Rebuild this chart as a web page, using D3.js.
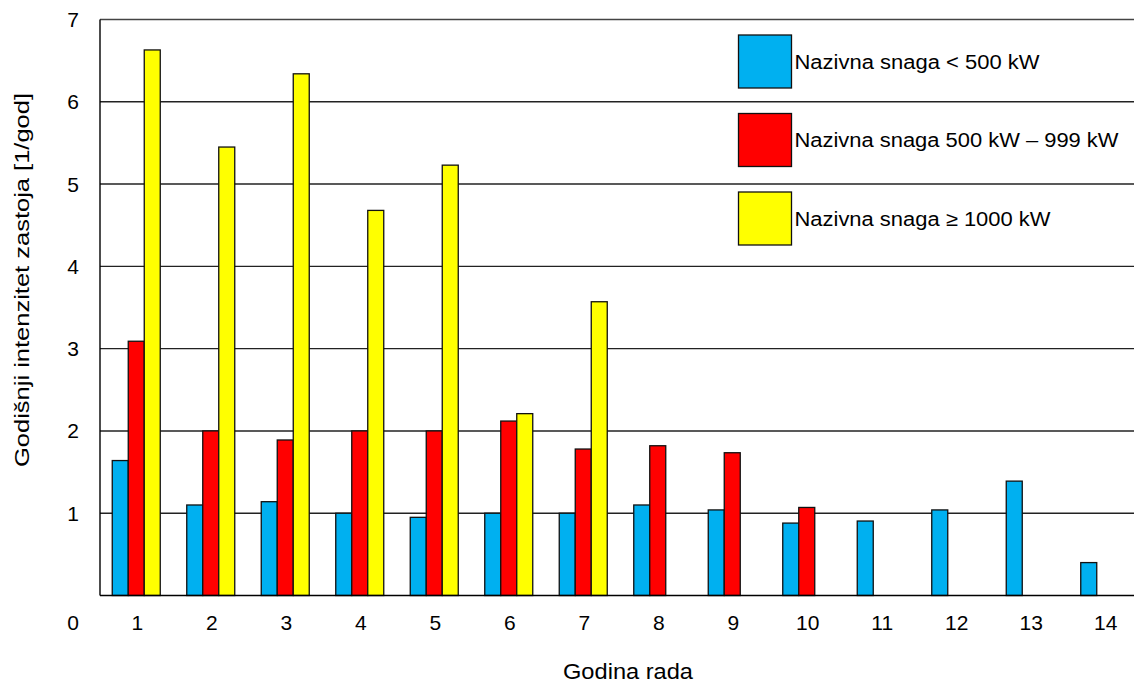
<!DOCTYPE html>
<html>
<head>
<meta charset="utf-8">
<script src="https://cdn.jsdelivr.net/npm/d3@7"></script>
<style>
  html, body { margin: 0; padding: 0; background: #fff; }
  text { font-family: "Liberation Sans", Arial, sans-serif; fill: #000; }
</style>
</head>
<body>
<svg id="chart" width="1134" height="684"></svg>
<script>
// ---- data ----
const categories = ["1","2","3","4","5","6","7","8","9","10","11","12","13","14"];
const seriesNames = ["Nazivna snaga < 500 kW", "Nazivna snaga 500 kW \u2013 999 kW", "Nazivna snaga \u2265 1000 kW"];
const seriesColors = ["#00B0F0", "#FF0000", "#FFFF00"];
const below500 = [1.64, 1.10, 1.14, 1.00, 0.95, 1.00, 1.00, 1.10, 1.04, 0.88, 0.905, 1.04, 1.39, 0.40];
const from500to999 = [3.09, 2.00, 1.89, 2.00, 2.00, 2.12, 1.78, 1.82, 1.735, 1.07, null, null, null, null];
const above1000 = [6.63, 5.45, 6.34, 4.68, 5.23, 2.21, 3.57, null, null, null, null, null, null, null];
const yTicks = [1, 2, 3, 4, 5, 6, 7];
const yTitle = "Godišnji intenzitet zastoja [1/god]";
const xTitle = "Godina rada";

const seriesValues = [below500, from500to999, above1000];

// ---- layout ----
const svg = d3.select("#chart");
const W = 1134, H = 684;
const plotLeft = 100, plotTop = 19.5, plotBottom = 595.5;
const step = 74.5;

const x = d3.scaleBand().domain(categories).range([99, 99 + step * categories.length]).padding(0);
const groupW = 48;
const xs = d3.scaleBand().domain(d3.range(seriesNames.length)).range([0, groupW]).padding(0);
const y = d3.scaleLinear().domain([0, 7]).range([plotBottom, plotTop]);

// gridlines
svg.append("g").selectAll("line").data(yTicks).join("line")
  .attr("x1", plotLeft).attr("x2", W)
  .attr("y1", d => y(d)).attr("y2", d => y(d))
  .attr("stroke", d => d === 7 ? "#444" : "#222")
  .attr("stroke-width", 1.4);

// bars
const rows = [];
seriesValues.forEach((arr, si) => arr.forEach((v, ci) => {
  if (v != null) rows.push({ s: si, c: categories[ci], v });
}));
svg.append("g").selectAll("rect").data(rows).join("rect")
  .attr("x", d => x(d.c) + (x.bandwidth() - groupW) / 2 + xs(d.s))
  .attr("y", d => y(d.v))
  .attr("width", xs.bandwidth())
  .attr("height", d => y(0) - y(d.v))
  .attr("fill", d => seriesColors[d.s])
  .attr("stroke", "#111")
  .attr("stroke-width", 1.3);

// axes lines
svg.append("line").attr("x1", plotLeft).attr("x2", plotLeft).attr("y1", plotTop).attr("y2", plotBottom)
  .attr("stroke", "#000").attr("stroke-width", 1.4);
svg.append("line").attr("x1", plotLeft).attr("x2", W).attr("y1", plotBottom).attr("y2", plotBottom)
  .attr("stroke", "#000").attr("stroke-width", 1.4);

// y tick labels
svg.append("g").selectAll("text").data(yTicks).join("text")
  .attr("x", 73).attr("y", d => y(d) + 7.5)
  .attr("text-anchor", "middle")
  .attr("font-size", 21)
  .text(d => d);
// "0" label at bottom-left corner
svg.append("text").attr("x", 73).attr("y", 630).attr("text-anchor", "middle")
  .attr("font-size", 21).text("0");

// x tick labels
svg.append("g").selectAll("text").data(categories).join("text")
  .attr("x", d => x(d) + x.bandwidth() / 2 + 1)
  .attr("y", 630)
  .attr("text-anchor", "middle")
  .attr("font-size", 21)
  .text(d => d);

// axis titles
svg.append("text")
  .attr("transform", "translate(29,280) rotate(-90)")
  .attr("text-anchor", "middle")
  .attr("font-size", 21)
  .attr("textLength", 374)
  .attr("lengthAdjust", "spacingAndGlyphs")
  .text(yTitle);
svg.append("text")
  .attr("x", 628).attr("y", 679)
  .attr("text-anchor", "middle")
  .attr("font-size", 22)
  .attr("textLength", 130)
  .attr("lengthAdjust", "spacingAndGlyphs")
  .text(xTitle);

// legend
const legendLens = [245, 324, 256];
const lg = svg.append("g").selectAll("g").data(seriesNames).join("g")
  .attr("transform", (d, i) => `translate(738.5,${35 + i * 78.5})`);
lg.append("rect").attr("width", 53).attr("height", 53)
  .attr("fill", (d, i) => seriesColors[i]).attr("stroke", "#111").attr("stroke-width", 1.3);
lg.append("text").attr("x", 56).attr("y", 33.5)
  .attr("font-size", 20)
  .attr("textLength", (d, i) => legendLens[i])
  .attr("lengthAdjust", "spacingAndGlyphs")
  .text(d => d);
</script>
</body>
</html>
